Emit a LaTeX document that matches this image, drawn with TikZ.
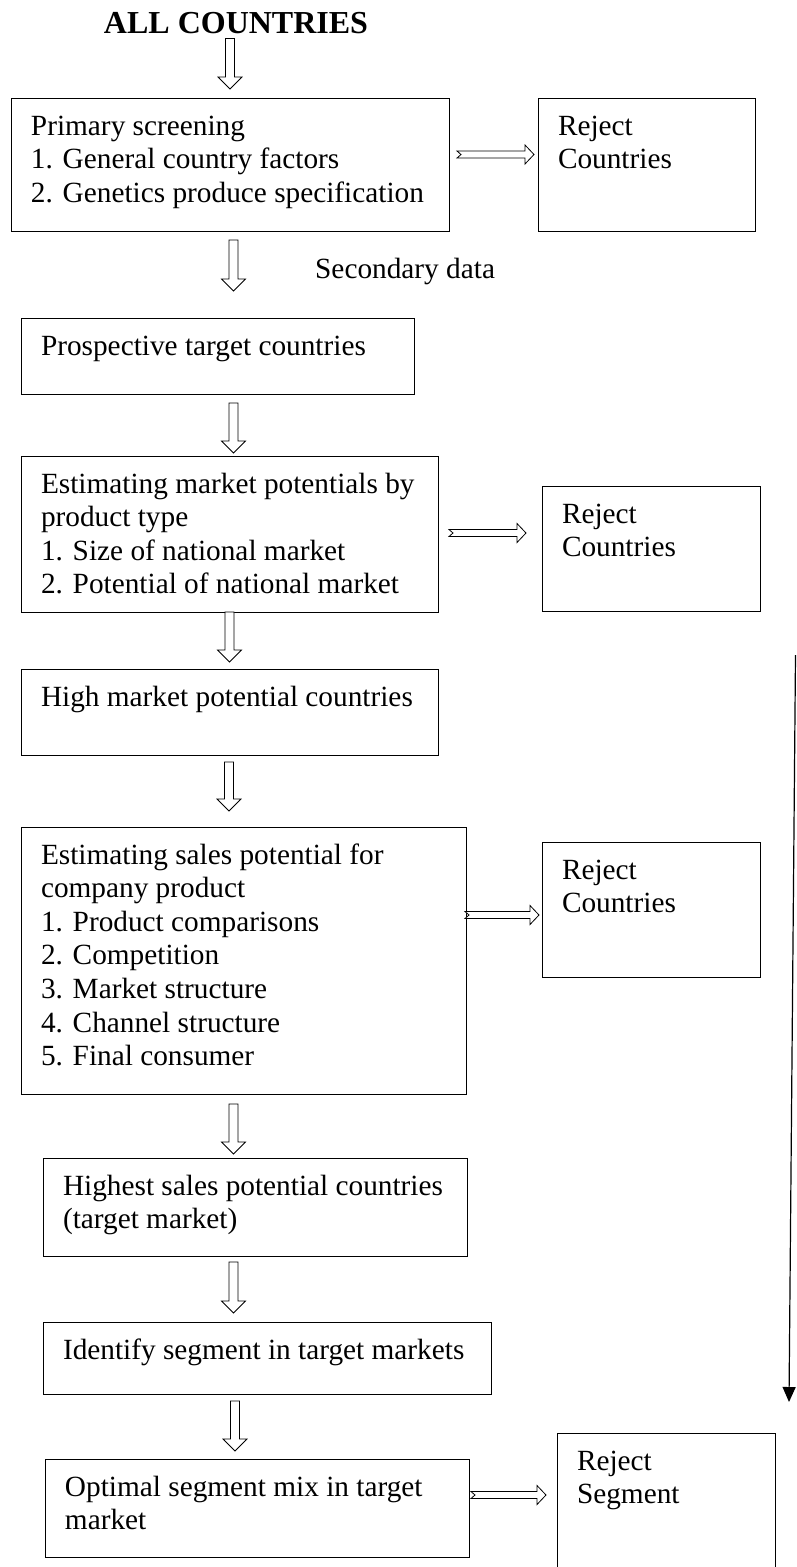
\documentclass[tikz,border=0pt]{standalone}
\usepackage{fontspec}
\setmainfont{Liberation Serif}
\usetikzlibrary{calc,arrows.meta}
\newcommand\bodyfont{\fontsize{29.3pt}{33.6pt}\selectfont}
\newcommand\titlefont{\fontsize{32pt}{36pt}\selectfont\bfseries}
\newcommand\boxtxt[3]{\parbox[t][#2][t]{#1}{\raggedright\leftskip=20pt\relax\vspace*{13.48pt}\strut #3}}
\tikzset{
  box/.style={draw, line width=0.8pt, inner sep=0pt, outer sep=0pt, anchor=north west, font=\bodyfont},
  lbl/.style={inner sep=0pt, anchor=base west, font=\bodyfont},
  blockdown/.style={draw, line width=0.8pt, fill=white, line join=miter,
    to path={let \p1=(\tikztostart), \p2=(\tikztotarget) in
      (\x1-4.5pt,\y1) -- (\x1+4.5pt,\y1) -- (\x1+4.5pt,\y2+12pt) -- (\x1+12pt,\y2+12pt)
      -- (\x1,\y2) -- (\x1-12pt,\y2+12pt) -- (\x1-4.5pt,\y2+12pt) -- cycle}},
  blockright/.style={draw, line width=0.8pt, fill=white, line join=miter,
    to path={let \p1=(\tikztostart), \p2=(\tikztotarget) in
      (\x1,\y1+3.5pt) -- (\x2-9pt,\y1+3.5pt) -- (\x2-9pt,\y1+9.5pt) -- (\x2,\y1)
      -- (\x2-9pt,\y1-9.5pt) -- (\x2-9pt,\y1-3.5pt) -- (\x1,\y1-3.5pt) -- (\x1+4pt,\y1) -- cycle}},
  longarrow/.style={draw, line width=1.2pt, -{Triangle[length=15pt,width=13pt]}}
}
\begin{document}
\begin{tikzpicture}[x=1pt,y={(0pt,-1pt)}]
\useasboundingbox (0,0) rectangle (796,1567);

% title and label
\node[inner sep=0pt, anchor=base, font=\titlefont] (all) at (236,33) {ALL COUNTRIES};
\node[lbl] (sec) at (315,278) {Secondary data};

% main column
\node[box] (b1) at (11,98) {\boxtxt{438pt}{133pt}{Primary screening\\1. General country factors\\2. Genetics produce specification}};
\node[box] (b2) at (21,318) {\boxtxt{393pt}{76pt}{Prospective target countries}};
\node[box] (b3) at (21,456) {\boxtxt{417pt}{156pt}{Estimating market potentials by\\product type\\1. Size of national market\\2. Potential of national market}};
\node[box] (b4) at (21,669) {\boxtxt{417pt}{86pt}{High market potential countries}};
\node[box] (b5) at (21,827) {\boxtxt{445pt}{267pt}{Estimating sales potential for\\company product\\1. Product comparisons\\2. Competition\\3. Market structure\\4. Channel structure\\5. Final consumer}};
\node[box] (b6) at (43,1158) {\boxtxt{424pt}{98pt}{Highest sales potential countries\\(target market)}};
\node[box] (b7) at (43,1322) {\boxtxt{448pt}{72pt}{Identify segment in target markets}};
\node[box] (b8) at (45,1459) {\boxtxt{424pt}{98pt}{Optimal segment mix in target\\market}};

% reject boxes
\node[box] (r1) at (538,98) {\boxtxt{217pt}{133pt}{Reject\\Countries}};
\node[box] (r2) at (542,486) {\boxtxt{218pt}{125pt}{Reject\\Countries}};
\node[box] (r3) at (542,842) {\boxtxt{218pt}{135pt}{Reject\\Countries}};
\node[box] (rs) at (557,1433) {\boxtxt{218pt}{167pt}{Reject\\Segment}};

% hollow down arrows
\draw[blockdown] ([xshift=-6pt,yshift=-5pt]all.south) to ([yshift=9pt]b1.north);
\draw[blockdown] ([xshift=3.5pt,yshift=-9pt]b1.south) to ([yshift=27pt]b2.north);
\draw[blockdown] ([xshift=16pt,yshift=-9pt]b2.south) to ([yshift=3pt]b3.north);
\draw[blockdown] ([xshift=0pt,yshift=0pt]b3.south) to ([yshift=7pt]b4.north);
\draw[blockdown] ([xshift=-0.5pt,yshift=-7pt]b4.south) to ([yshift=16pt]b5.north);
\draw[blockdown] ([xshift=-10pt,yshift=-10pt]b5.south) to ([yshift=4pt]b6.north);
\draw[blockdown] ([xshift=-21.5pt,yshift=-6pt]b6.south) to ([yshift=9pt]b7.north);
\draw[blockdown] ([xshift=-32pt,yshift=-7pt]b7.south) to ([yshift=8pt]b8.north);

% notched right arrows
\draw[blockright] ([xshift=8pt,yshift=10pt]b1.east) to ([xshift=-4pt]r1.west);
\draw[blockright] ([xshift=11pt,yshift=1pt]b3.east) to ([xshift=-16pt]r2.west);
\draw[blockright] ([xshift=-1pt,yshift=45.5pt]b5.east) to ([xshift=-3pt]r3.west);
\draw[blockright] ([xshift=2pt,yshift=13pt]b8.east) to ([xshift=-11pt]rs.west);

% long feedback arrow on the right
\coordinate (ls) at (795.5,655);
\coordinate (le) at (789,1402);
\draw[longarrow] (ls) -- (le);
\end{tikzpicture}
\end{document}
